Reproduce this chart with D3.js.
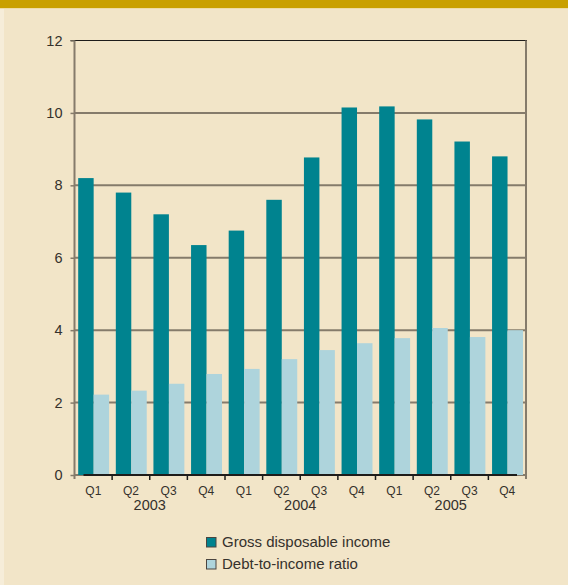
<!DOCTYPE html>
<html>
<head>
<meta charset="utf-8">
<script src="https://cdn.jsdelivr.net/npm/d3@7"></script>
<style>
  html, body { margin: 0; padding: 0; background: #F2E5C8; }
  svg { display: block; }
  text { font-family: "Liberation Sans", Arial, sans-serif; fill: #35312c; }
</style>
</head>
<body>
<svg id="chart" width="568" height="585"></svg>
<script>
// Quarterly categories and year groupings
const years = ["2003", "2004", "2005"];
const quarters = ["Q1", "Q2", "Q3", "Q4"];

// Gross disposable income, per quarter 2003 Q1 – 2005 Q4
const grossIncome = [8.2, 7.8, 7.2, 6.35, 6.75, 7.6, 8.77, 10.15, 10.18, 9.82, 9.21, 8.8];
// Debt-to-income ratio, per quarter
const debtRatio = [2.22, 2.33, 2.52, 2.79, 2.93, 3.2, 3.45, 3.64, 3.78, 4.06, 3.81, 4.0];

const yTicks = [0, 2, 4, 6, 8, 10, 12];
const seriesNames = ["Gross disposable income", "Debt-to-income ratio"];
const seriesColors = ["#00838F", "#AED4DC"];

const svg = d3.select("#chart");
const W = 568, H = 585;

// page background, gold band on top, light strip on the left
svg.append("rect").attr("width", W).attr("height", H).attr("fill", "#F2E5C8");
svg.append("rect").attr("x", 0).attr("y", 0).attr("width", 4).attr("height", H).attr("fill", "#F6EDD9");
svg.append("rect").attr("width", W).attr("height", 8).attr("fill", "#C9A000");
svg.append("rect").attr("y", 8).attr("width", W).attr("height", 1).attr("fill", "#EEDCA6");

const plotLeft = 74.5, plotRight = 526, plotTop = 40.5, plotBottom = 475;

const keys = [];
years.forEach(yr => quarters.forEach(q => keys.push(yr + " " + q)));
const rows = keys.map((k, i) => ({ key: k, gdi: grossIncome[i], dti: debtRatio[i] }));

const x = d3.scaleBand().domain(keys).range([plotLeft, plotRight]).paddingInner(0).paddingOuter(0);
const bw = x.bandwidth();
const x1 = d3.scaleBand().domain(["gdi", "dti"]).range([bw * 0.098, bw * 0.92]).padding(0);
const y = d3.scaleLinear().domain([0, 12]).range([plotBottom, plotTop]);

// horizontal gridlines
svg.append("g").selectAll("line").data(yTicks.filter(t => t > 0 && t < 12)).join("line")
  .attr("x1", plotLeft).attr("x2", plotRight)
  .attr("y1", d => y(d)).attr("y2", d => y(d))
  .attr("stroke", "#857b6b").attr("stroke-width", 2);
// baseline gridline under the axis
svg.append("line").attr("x1", plotLeft).attr("x2", plotRight).attr("y1", y(0)).attr("y2", y(0))
  .attr("stroke", "#857b6b").attr("stroke-width", 2);

// bars
const groups = svg.append("g").selectAll("g").data(rows).join("g")
  .attr("transform", d => `translate(${x(d.key)},0)`);
groups.selectAll("rect").data(d => [
    { s: "gdi", v: d.gdi, c: seriesColors[0] },
    { s: "dti", v: d.dti, c: seriesColors[1] }
  ]).join("rect")
  .attr("x", d => x1(d.s))
  .attr("width", x1.bandwidth())
  .attr("y", d => y(d.v))
  .attr("height", d => y(0) - y(d.v))
  .attr("fill", d => d.c);

// frame: top line, right edge
svg.append("line").attr("x1", plotLeft - 4).attr("x2", plotRight + 1).attr("y1", y(12)).attr("y2", y(12))
  .attr("stroke", "#1e1c1a").attr("stroke-width", 1.2);
svg.append("line").attr("x1", plotRight).attr("x2", plotRight).attr("y1", y(12)).attr("y2", plotBottom + 4)
  .attr("stroke", "#857b6b").attr("stroke-width", 2);

// y axis
const yAxis = svg.append("g").attr("transform", `translate(${plotLeft},0)`)
  .call(d3.axisLeft(y).tickValues(yTicks).tickSize(4).tickPadding(8).tickFormat(d3.format("d")));
yAxis.select(".domain").attr("stroke", "#857b6b").attr("stroke-width", 2)
  .attr("d", `M0,${plotTop}V${plotBottom + 4}`);
yAxis.selectAll(".tick line").attr("stroke", "#857b6b").attr("stroke-width", 1.5);
yAxis.selectAll(".tick text").attr("font-size", 14.5).attr("fill", "#35312c")
  .style("font-family", "'Liberation Sans', Arial, sans-serif");

// x axis: dark baseline, boundary ticks, quarter labels
svg.append("line").attr("x1", plotLeft + 9).attr("x2", plotRight - 9).attr("y1", y(0)).attr("y2", y(0))
  .attr("stroke", "#1e1c1a").attr("stroke-width", 2.2);
const boundaries = keys.slice(1).map(k => x(k));
svg.append("g").selectAll("line").data(boundaries).join("line")
  .attr("x1", d => d).attr("x2", d => d)
  .attr("y1", y(0)).attr("y2", y(0) + 5)
  .attr("stroke", "#1e1c1a").attr("stroke-width", 1.5);

const xAxis = svg.append("g").attr("transform", `translate(0,${plotBottom})`)
  .call(d3.axisBottom(x).tickSize(0).tickPadding(11).tickFormat(k => k.slice(5)));
xAxis.select(".domain").remove();
xAxis.selectAll(".tick text").attr("font-size", 12).attr("fill", "#35312c")
  .style("font-family", "'Liberation Sans', Arial, sans-serif");

// year labels centred under each year's quarters
svg.append("g").selectAll("text").data(years).join("text")
  .attr("x", yr => x(yr + " Q3"))
  .attr("y", 510)
  .attr("text-anchor", "middle")
  .attr("font-size", 14.5)
  .text(yr => yr);

// legend
const legend = svg.append("g").selectAll("g").data(seriesNames).join("g")
  .attr("transform", (d, i) => `translate(206,${537 + i * 22})`);
legend.append("rect").attr("x", 0.5).attr("y", 0.5).attr("width", 9.5).attr("height", 9.5)
  .attr("fill", (d, i) => seriesColors[i]).attr("stroke", "#4a4540").attr("stroke-width", 1);
legend.append("text").attr("x", 16).attr("y", 10).attr("font-size", 15).text(d => d);
</script>
</body>
</html>
